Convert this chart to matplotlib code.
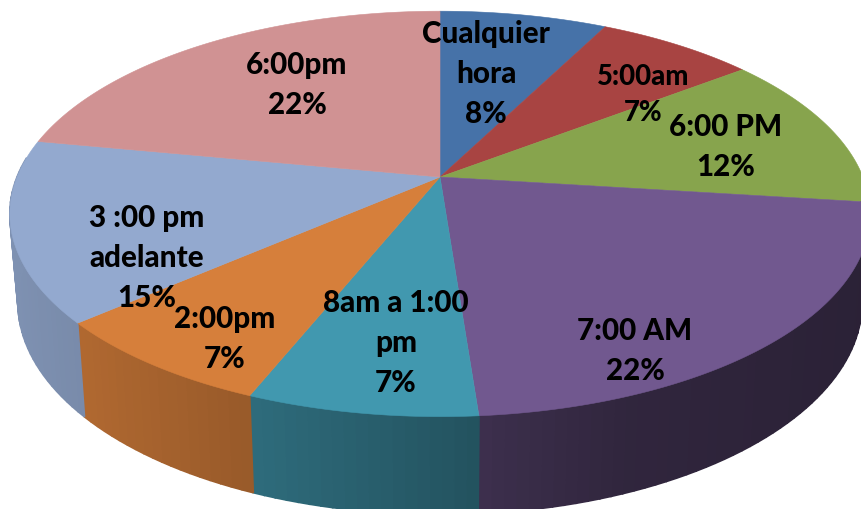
import numpy as np
import matplotlib
matplotlib.use('Agg')
import matplotlib.pyplot as plt
from matplotlib.colors import to_rgb

# Slices, clockwise from 12 o'clock
names = ['Cualquier\nhora', '5:00am', '6:00 PM', '7:00 AM',
         '8am a 1:00\npm', '2:00pm', '3 :00 pm\nadelante', '6:00pm']
percent_labels = ['8%', '7%', '12%', '22%', '7%', '7%', '15%', '22%']
# Slice sizes as measured on the picture, the labels above are rounded
values = [7.5, 7.1, 12.4, 21.8, 7.3, 7.5, 14.4, 22.0]
colors = ['#4672A8', '#A84442', '#87A44D', '#71588F',
          '#4198AF', '#D67F3B', '#93A9CF', '#D09293']

# Label centres in image pixels, and text sizes
label_x = [486, 643, 726, 635, 396, 225, 147, 297]
label_y = [74, 95, 147, 351, 343, 339, 258, 85]
label_size = [21.3, 19.8, 21.3, 21.3, 21.3, 21.3, 21.3, 21.3]

# Perspective of the disc, in image pixels
K = 0.182
TOP = dict(cx=440, cy=178, a=423, b=196)
BOTTOM = dict(cx=440, cy=265, a=415, b=205)


def project(theta, disc):
    u, v = np.sin(theta), np.cos(theta)
    w = 1 + K * v
    return disc['cx'] + disc['a'] * u / w, disc['cy'] - disc['b'] * v / w


def side_shade(x):
    # Sides get darker from left to right
    return np.interp(x, [10, 85, 250, 480, 620, 860], [0.86, 0.82, 0.71, 0.54, 0.43, 0.38])


fig = plt.figure(figsize=(8.61, 5.10), dpi=100)
ax = fig.add_axes([0, 0, 1, 1])
ax.set_xlim(0, 861)
ax.set_ylim(510, 0)
ax.axis('off')

edges = np.cumsum([0] + values) / sum(values) * 2 * np.pi

# Side wall, only the part facing the viewer
for i, color in enumerate(colors):
    start = max(edges[i], np.pi / 2)
    stop = min(edges[i + 1], 3 * np.pi / 2 + 0.1)
    if stop <= start:
        continue
    steps = np.linspace(start, stop, int((stop - start) * 40) + 2)
    base = np.array(to_rgb(color))
    for t0, t1 in zip(steps[:-1], steps[1:]):
        x0, y0 = project(t0, TOP)
        x1, y1 = project(t1, TOP)
        x2, y2 = project(t1, BOTTOM)
        x3, y3 = project(t0, BOTTOM)
        c = base * side_shade((x0 + x1 + x2 + x3) / 4)
        ax.fill([x0, x1, x2, x3], [y0, y1, y2, y3], color=c, lw=1.2, zorder=1)

# Top face
for i, color in enumerate(colors):
    arc = np.linspace(edges[i], edges[i + 1], 120)
    x, y = project(arc, TOP)
    ax.fill(np.r_[TOP['cx'], x], np.r_[TOP['cy'], y], color=color, lw=0.4, zorder=2)

for name, pct, lx, ly, size in zip(names, percent_labels, label_x, label_y, label_size):
    ax.text(lx, ly, f'{name}\n{pct}', ha='center', va='center', family='Lato',
            fontweight='black', fontsize=size, linespacing=1.52, color='black', zorder=3)

fig.savefig('out.png', dpi=100)
